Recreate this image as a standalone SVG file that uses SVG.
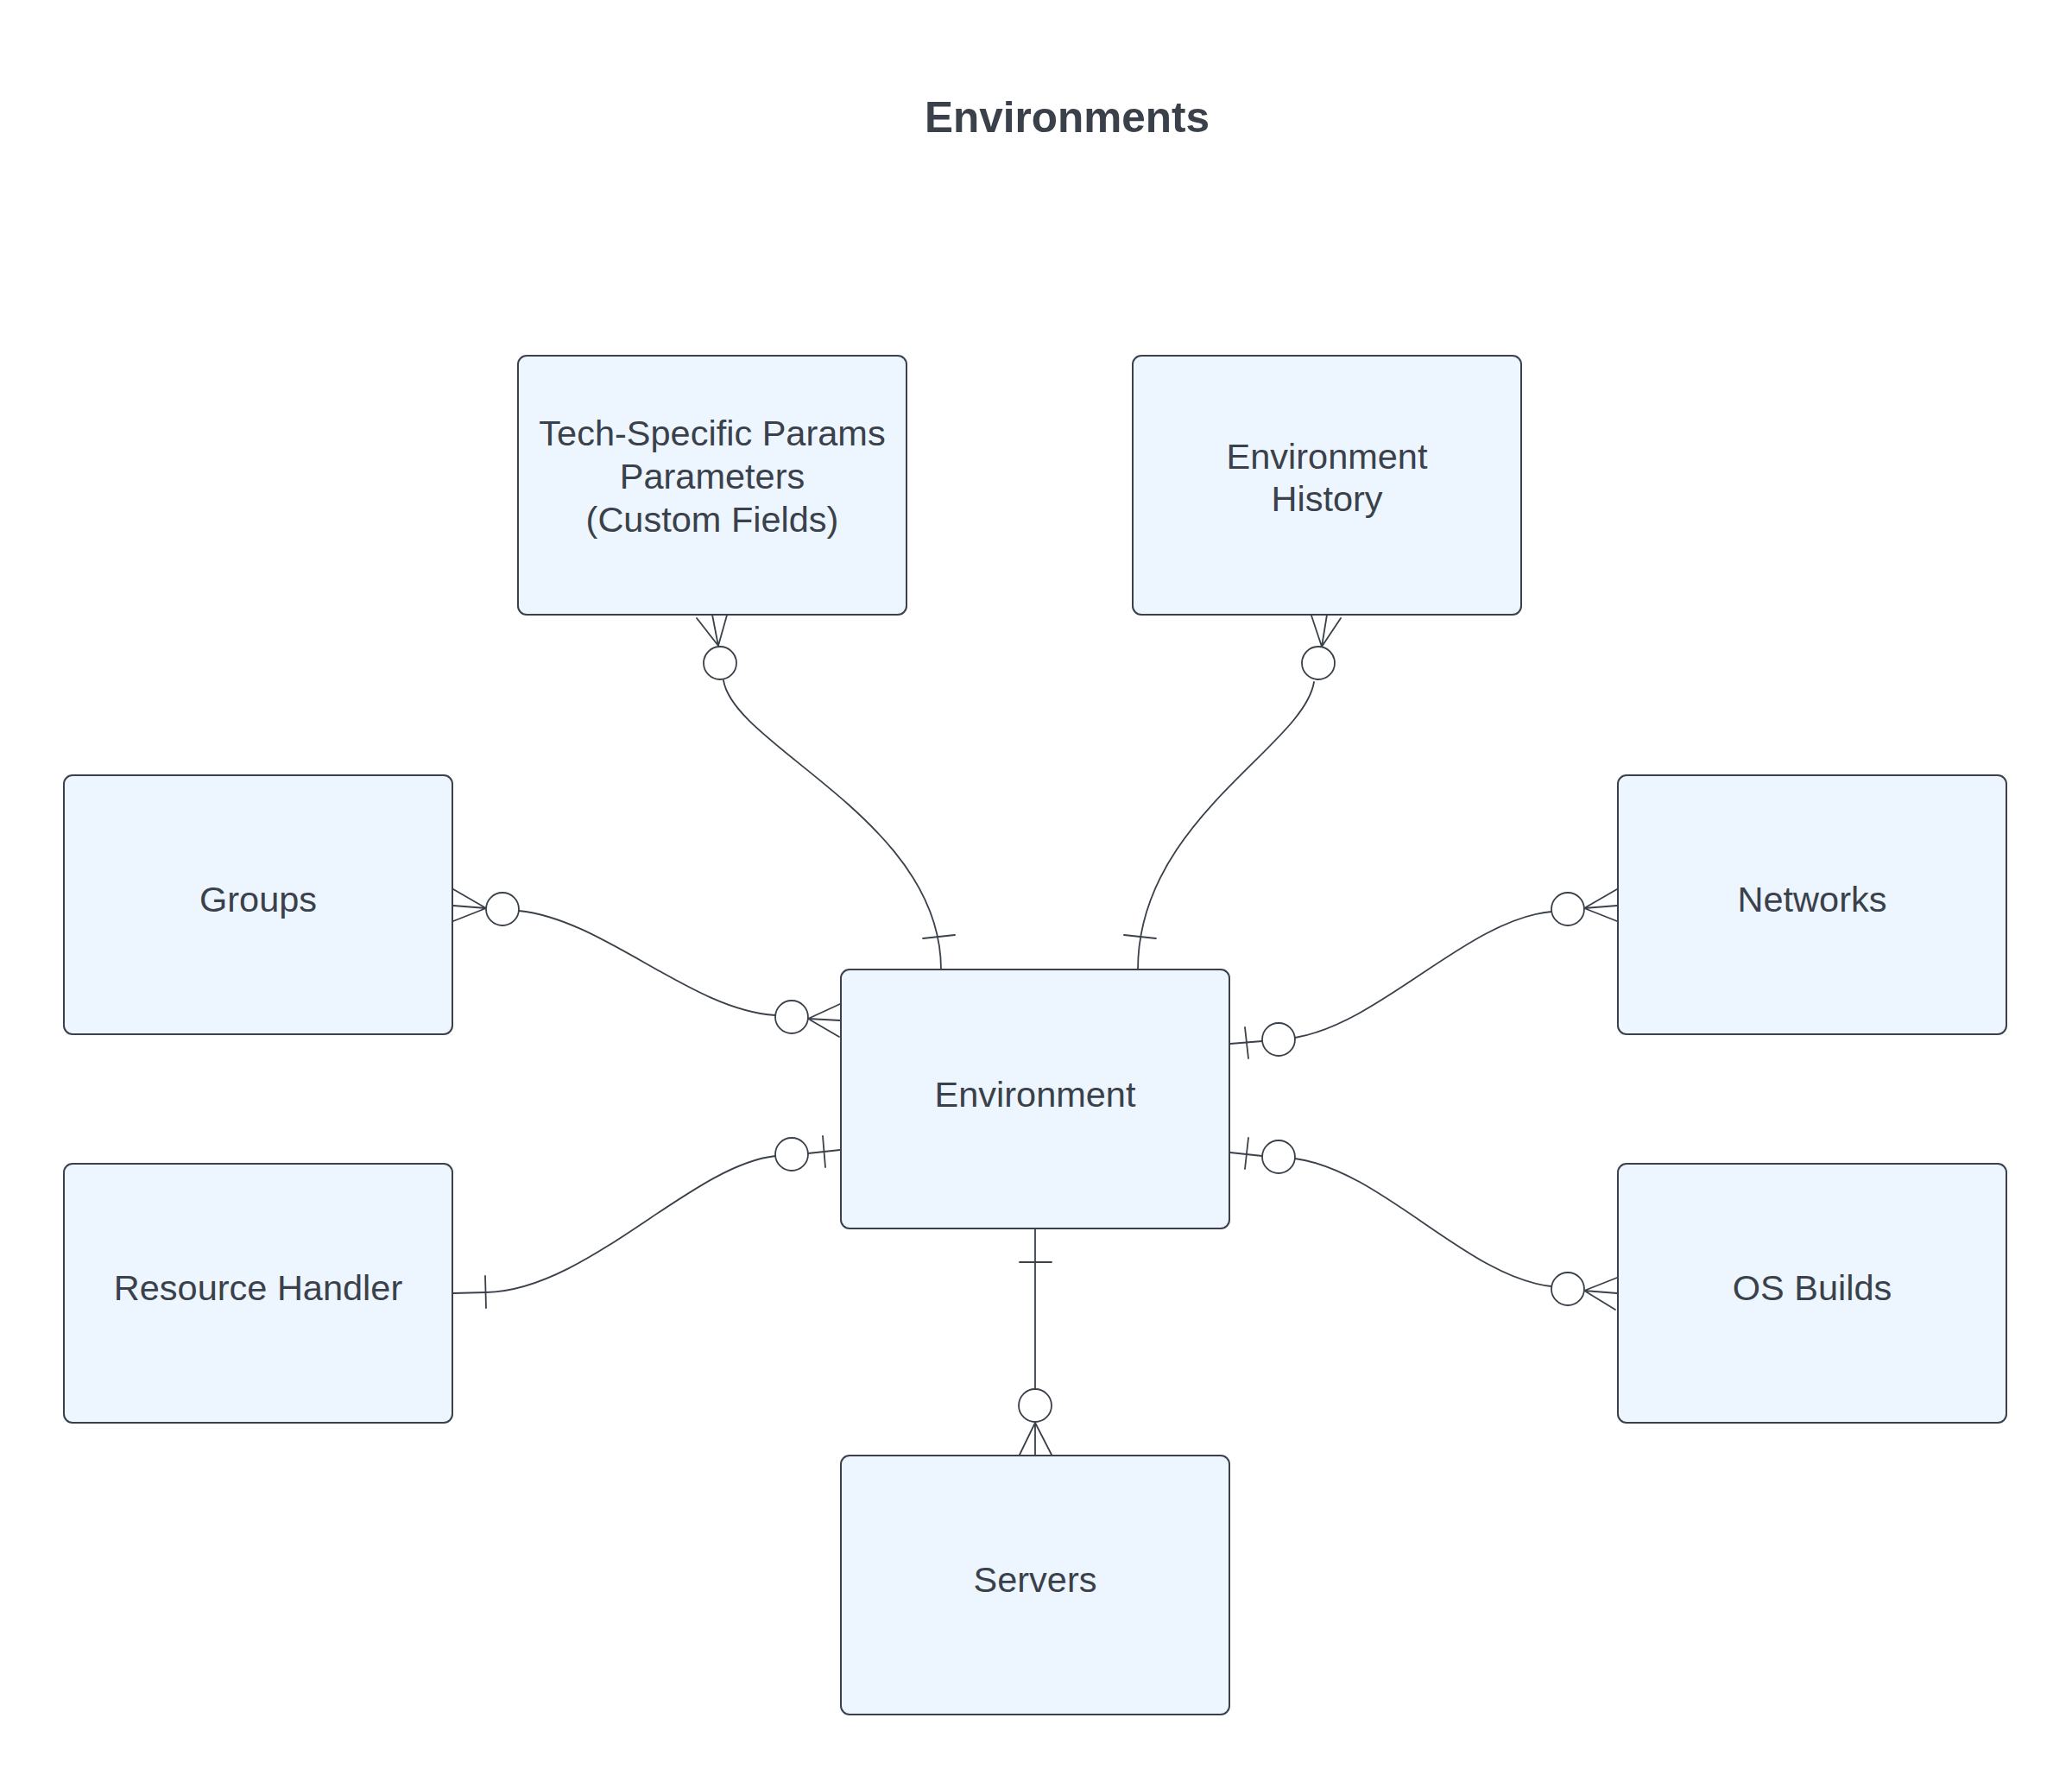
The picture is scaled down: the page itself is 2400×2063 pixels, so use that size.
<svg xmlns="http://www.w3.org/2000/svg" width="2400" height="2063" viewBox="0 0 2400 2063">
<style>
.box{fill:#edf5ff;stroke:#3a414a;stroke-width:2}
.lbl{font-family:"Liberation Sans",Arial,sans-serif;font-size:41.5px;fill:#3a414a;text-anchor:middle}
.title{font-family:"Liberation Sans",Arial,sans-serif;font-size:49.5px;font-weight:bold;fill:#3a414a;text-anchor:middle}
.ln{fill:none;stroke:#3a414a;stroke-width:1.8;stroke-linecap:round}
.ring{fill:#ffffff;stroke:#3a414a;stroke-width:1.8}
</style>
<rect width="2400" height="2063" fill="#ffffff"/>
<text class="title" x="1236" y="153">Environments</text>

<g id="connectors">
  <!-- Tech-Specific Params to Environment -->
  <g id="c-tech">
    <path class="ln" d="M807 716 L832 748 M825 712 L832 748 M843 709 L832 748"/>
    <path class="ln" d="M838 788 C850 865 1090 950 1090 1123"/>
    <path class="ln" d="M1069 1087 L1106 1083"/>
    <circle class="ring" cx="834" cy="768" r="19"/>
  </g>
  <!-- Environment History to Environment -->
  <g id="c-history">
    <path class="ln" d="M1518 710 L1531 749 M1537 712 L1531 749 M1553 716 L1531 749"/>
    <path class="ln" d="M1522 790 C1510 865 1318 950 1318 1123"/>
    <path class="ln" d="M1302 1083 L1339 1087"/>
    <circle class="ring" cx="1527" cy="768" r="19"/>
  </g>
  <!-- Groups to Environment -->
  <g id="c-groups">
    <path class="ln" d="M525 1030 L563 1052 M525 1049 L563 1052 M525 1067 L563 1052"/>
    <path class="ln" d="M601 1055 C700 1065 800 1170 898 1176"/>
    <path class="ln" d="M973 1163 L936 1180 M973 1182 L936 1180 M972 1201 L936 1180"/>
    <circle class="ring" cx="582" cy="1053" r="19"/>
    <circle class="ring" cx="917" cy="1178" r="19"/>
  </g>
  <!-- Networks to Environment -->
  <g id="c-networks">
    <path class="ln" d="M1425 1209 L1462 1206"/>
    <path class="ln" d="M1442 1190 L1446 1226"/>
    <path class="ln" d="M1500 1202 C1600 1185 1700 1065 1797 1056"/>
    <path class="ln" d="M1873 1030 L1835 1052 M1873 1049 L1835 1052 M1873 1067 L1835 1052"/>
    <circle class="ring" cx="1481" cy="1204" r="19"/>
    <circle class="ring" cx="1816" cy="1053" r="19"/>
  </g>
  <!-- Resource Handler to Environment -->
  <g id="c-rh">
    <path class="ln" d="M525 1498 L563 1497 C680 1495 800 1350 898 1339"/>
    <path class="ln" d="M562 1478 L563 1515"/>
    <path class="ln" d="M936 1336 L973 1332"/>
    <path class="ln" d="M953 1316 L956 1352"/>
    <circle class="ring" cx="917" cy="1337" r="19"/>
  </g>
  <!-- OS Builds to Environment -->
  <g id="c-os">
    <path class="ln" d="M1425 1335 L1462 1339"/>
    <path class="ln" d="M1446 1318 L1442 1354"/>
    <path class="ln" d="M1500 1342 C1600 1355 1700 1480 1797 1490"/>
    <path class="ln" d="M1873 1480 L1835 1495 M1873 1498 L1835 1495 M1871 1517 L1835 1495"/>
    <circle class="ring" cx="1481" cy="1340" r="19"/>
    <circle class="ring" cx="1816" cy="1493" r="19"/>
  </g>
  <!-- Environment to Servers -->
  <g id="c-servers">
    <path class="ln" d="M1199 1424 L1199 1609"/>
    <path class="ln" d="M1181 1462 L1218 1462"/>
    <path class="ln" d="M1181 1685 L1199 1648 M1199 1685 L1199 1648 M1218 1685 L1199 1648"/>
    <circle class="ring" cx="1199" cy="1628" r="19"/>
  </g>
</g>

<g id="node-tech">
  <rect class="box" x="600" y="412" width="450" height="300" rx="10"/>
  <text class="lbl" x="825" y="516">Tech-Specific Params</text>
  <text class="lbl" x="825" y="566">Parameters</text>
  <text class="lbl" x="825" y="616">(Custom Fields)</text>
</g>
<g id="node-history">
  <rect class="box" x="1312" y="412" width="450" height="300" rx="10"/>
  <text class="lbl" x="1537" y="543">Environment</text>
  <text class="lbl" x="1537" y="592">History</text>
</g>
<g id="node-groups">
  <rect class="box" x="74" y="898" width="450" height="300" rx="10"/>
  <text class="lbl" x="299" y="1056">Groups</text>
</g>
<g id="node-networks">
  <rect class="box" x="1874" y="898" width="450" height="300" rx="10"/>
  <text class="lbl" x="2099" y="1056">Networks</text>
</g>
<g id="node-environment">
  <rect class="box" x="974" y="1123" width="450" height="300" rx="10"/>
  <text class="lbl" x="1199" y="1282">Environment</text>
</g>
<g id="node-resource-handler">
  <rect class="box" x="74" y="1348" width="450" height="300" rx="10"/>
  <text class="lbl" x="299" y="1506">Resource Handler</text>
</g>
<g id="node-os-builds">
  <rect class="box" x="1874" y="1348" width="450" height="300" rx="10"/>
  <text class="lbl" x="2099" y="1506">OS Builds</text>
</g>
<g id="node-servers">
  <rect class="box" x="974" y="1686" width="450" height="300" rx="10"/>
  <text class="lbl" x="1199" y="1844">Servers</text>
</g>
</svg>
